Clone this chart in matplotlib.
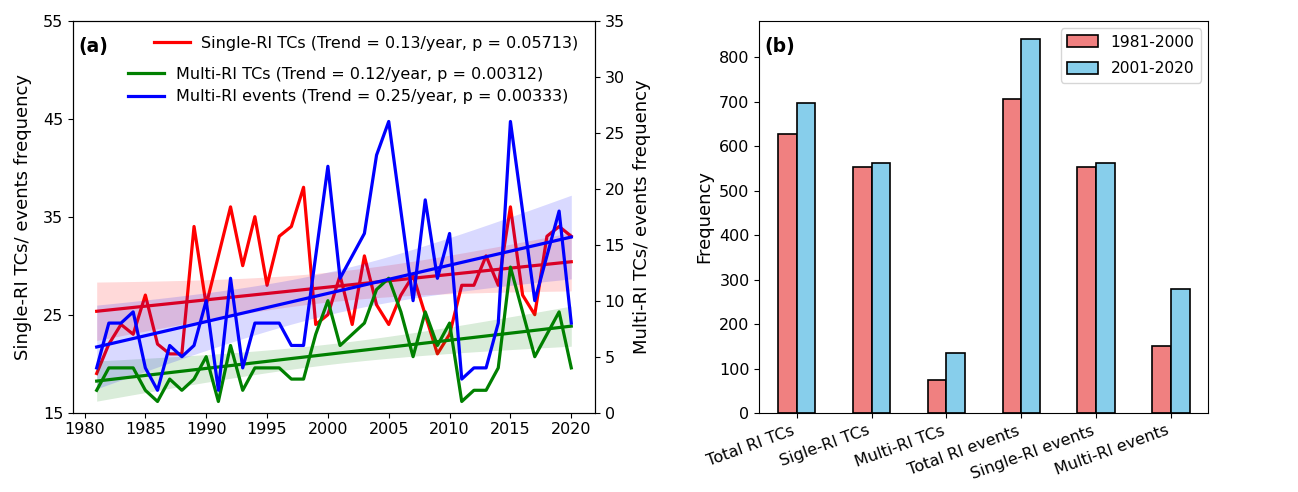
import numpy as np
import matplotlib
matplotlib.use("Agg")
import matplotlib.pyplot as plt

plt.rcParams['font.family'] = ['DejaVu Sans']
plt.rcParams['font.size'] = 11.5
plt.rcParams['xtick.labelsize'] = 11.5
plt.rcParams['ytick.labelsize'] = 11.5
plt.rcParams['axes.labelsize'] = 13

# ---------------- data ----------------
years = list(range(1981, 2021))
single_ri_tcs = [19, 22, 24, 23, 27, 22, 21, 21, 34, 26, 31, 36, 30, 35, 28, 33, 34, 38, 24, 25,
                 29, 24, 31, 26, 24, 27, 29, 25, 21, 23, 28, 28, 31, 28, 36, 27, 25, 33, 34, 33]
multi_ri_tcs = [2, 4, 4, 4, 2, 1, 3, 2, 3, 5, 1, 6, 2, 4, 4, 4, 3, 3, 7, 10,
                6, 7, 8, 11, 12, 9, 5, 9, 6, 8, 1, 2, 2, 4, 13, 9, 5, 7, 9, 4]
multi_ri_events = [4, 8, 8, 9, 4, 2, 6, 5, 6, 10, 2, 12, 4, 8, 8, 8, 6, 6, 14, 22,
                   12, 14, 16, 23, 26, 18, 10, 19, 12, 16, 3, 4, 4, 8, 26, 18, 10, 14, 18, 8]
label_single = "Single-RI TCs (Trend = 0.13/year, p = 0.05713)"
label_multi_tcs = "Multi-RI TCs (Trend = 0.12/year, p = 0.00312)"
label_multi_events = "Multi-RI events (Trend = 0.25/year, p = 0.00333)"

bar_categories = ["Total RI TCs", "Sigle-RI TCs", "Multi-RI TCs",
                  "Total RI events", "Single-RI events", "Multi-RI events"]
period1_label = "1981-2000"
period2_label = "2001-2020"
period1_values = [627, 553, 74, 706, 553, 151]
period2_values = [697, 562, 135, 840, 562, 279]

# ---------------- helpers ----------------
def trend_band(x, y):
    x = np.asarray(x, float)
    y = np.asarray(y, float)
    n = len(x)
    b, a = np.polyfit(x, y, 1)
    fit = a + b * x
    resid = y - fit
    s = np.sqrt(np.sum(resid ** 2) / (n - 2))
    sxx = np.sum((x - x.mean()) ** 2)
    se = s * np.sqrt(1.0 / n + (x - x.mean()) ** 2 / sxx)
    t = 2.024
    return fit, fit - t * se, fit + t * se

fig = plt.figure(figsize=(12.98, 4.92), dpi=100)

# ---------------- panel (a) ----------------
ax = fig.add_axes([0.0562, 0.1612, 0.4022, 0.7968])
ax2 = ax.twinx()

lw = 2.3
ax.plot(years, single_ri_tcs, color='red', lw=lw, label=label_single)
fit, lo, hi = trend_band(years, single_ri_tcs)
ax.fill_between(years, lo, hi, color='red', alpha=0.15, lw=0)
ax.plot(years, fit, color='red', lw=lw)
ax.set_ylim(15, 55)
ax.set_yticks([15, 25, 35, 45, 55])
ax.set_xticks(range(1980, 2021, 5))
ax.set_ylabel("Single-RI TCs/ events frequency", labelpad=8)

ax2.plot(years, multi_ri_tcs, color='green', lw=lw, label=label_multi_tcs)
fit, lo, hi = trend_band(years, multi_ri_tcs)
ax2.fill_between(years, lo, hi, color='green', alpha=0.15, lw=0)
ax2.plot(years, fit, color='green', lw=lw)

ax2.plot(years, multi_ri_events, color='blue', lw=lw, label=label_multi_events)
fit, lo, hi = trend_band(years, multi_ri_events)
ax2.fill_between(years, lo, hi, color='blue', alpha=0.15, lw=0)
ax2.plot(years, fit, color='blue', lw=lw)
ax2.set_ylim(0, 35)
ax2.set_yticks(range(0, 36, 5))
ax2.set_ylabel("Multi-RI TCs/ events frequency", labelpad=6)

ax.legend(loc='upper left', bbox_to_anchor=(0.143, 0.978), frameon=False,
          borderaxespad=0, fontsize=11.5, handlelength=2.25, handletextpad=0.7)
ax2.legend(loc='upper left', bbox_to_anchor=(0.094, 0.898), frameon=False,
           borderaxespad=0, fontsize=11.5, handlelength=2.25, handletextpad=0.7,
           labelspacing=0.45)
ax.text(0.01, 0.935, "(a)", transform=ax.transAxes, fontsize=13.5,
        fontweight='bold', va='center', ha='left')

# ---------------- panel (b) ----------------
bx = fig.add_axes([0.585, 0.160, 0.346, 0.798])
pos = np.arange(len(bar_categories))
w = 0.25
bx.bar(pos - w / 2, period1_values, w, color='lightcoral', edgecolor='black',
       linewidth=1.2, label=period1_label)
bx.bar(pos + w / 2, period2_values, w, color='skyblue', edgecolor='black',
       linewidth=1.2, label=period2_label)
bx.set_xlim(-0.5, len(bar_categories) - 0.5)
bx.set_xticks(pos)
bx.set_xticklabels(bar_categories, rotation=20, ha='right')
bx.set_yticks(range(0, 801, 100))
bx.set_ylabel("Frequency")
bx.legend(loc='upper right', fontsize=11.2, labelspacing=0.75, handleheight=0.8)
bx.text(0.0105, 0.934, "(b)", transform=bx.transAxes, fontsize=13.5,
        fontweight='bold', va='center', ha='left')

fig.savefig("out.png", dpi=100)
